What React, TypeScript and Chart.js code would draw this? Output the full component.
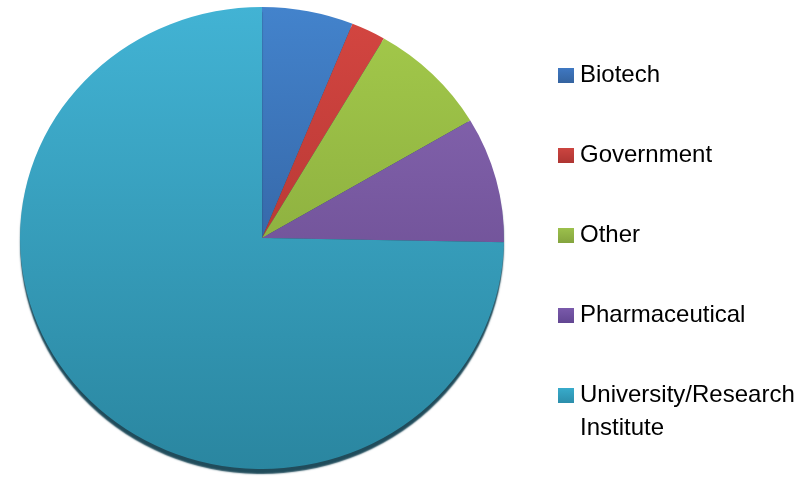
import React, { useEffect, useRef } from 'react';
import { Chart, registerables } from 'chart.js';

Chart.register(...registerables);

// ---- data ----
const categories: string[] = ['Biotech', 'Government', 'Other', 'Pharmaceutical', 'University/Research Institute'];
const legendLabels: (string | string[])[] = ['Biotech', 'Government', 'Other', 'Pharmaceutical', ['University/Research', 'Institute']];
const shares: number[] = [6.1, 2.3, 8.1, 8.8, 74.7];

// ---- styles ----
const topColors = ['#4383cc', '#d44641', '#a4ca4b', '#8a69b6', '#42b3d4'];
const bottomColors = ['#2a4f88', '#a02c2a', '#7a9a36', '#5e4282', '#2a86a0'];
const legendTop = ['#3f78c2', '#cc4540', '#9cc04c', '#7a5aab', '#38abcb'];
const legendBottom = ['#34639f', '#ae3532', '#84a43e', '#624692', '#2c8eab'];

const RADIUS_Y = 231;
const RADIUS_X = 242;

const ellipsePlugin = {
  id: 'ellipsePie',
  beforeDatasetsDraw(chart: any) {
    const { ctx, chartArea: a } = chart;
    const cx = (a.left + a.right) / 2;
    const cy = (a.top + a.bottom) / 2;
    ctx.save();
    ctx.translate(cx, cy);
    ctx.scale(RADIUS_X / RADIUS_Y, 1);
    ctx.translate(-cx, -cy);
    ctx.shadowColor = 'rgba(20,66,82,0.95)';
    ctx.shadowOffsetY = 5;
    ctx.shadowBlur = 1.5;
  },
  afterDatasetsDraw(chart: any) {
    chart.ctx.restore();
  },
};

function makeMarker(top: string, bottom: string): HTMLCanvasElement {
  const c = document.createElement('canvas');
  c.width = 16;
  c.height = 15;
  const x = c.getContext('2d')!;
  const g = x.createLinearGradient(0, 0, 0, 15);
  g.addColorStop(0, top);
  g.addColorStop(1, bottom);
  x.fillStyle = g;
  x.fillRect(0, 0, 16, 15);
  return c;
}

export default function App() {
  const ref = useRef<HTMLCanvasElement | null>(null);

  useEffect(() => {
    document.body.style.margin = '0';
    const canvas = ref.current;
    if (!canvas) return;
    const markers = legendTop.map((t, i) => makeMarker(t, legendBottom[i]));
    const chart = new Chart(canvas, {
      type: 'pie',
      data: {
        labels: legendLabels as any,
        datasets: [
          {
            label: 'Share',
            data: shares,
            radius: RADIUS_Y,
            clip: false,
            borderWidth: 0,
            backgroundColor: (c: any) => {
              const ch = c.chart;
              const a = ch.chartArea;
              const i = c.dataIndex ?? 0;
              if (!a) return topColors[i];
              const cy = (a.top + a.bottom) / 2;
              const g = ch.ctx.createLinearGradient(0, cy - RADIUS_Y, 0, cy + RADIUS_Y);
              g.addColorStop(0, topColors[i]);
              g.addColorStop(1, bottomColors[i]);
              return g;
            },
          } as any,
        ],
      },
      options: {
        animation: false,
        responsive: false,
        layout: { padding: { left: 16, right: 13, top: 0, bottom: 0 } },
        plugins: {
          tooltip: { enabled: false },
          legend: {
            position: 'right',
            align: 'center',
            maxWidth: 290,
            title: { display: true, text: '', font: { size: 10, lineHeight: 1.2 }, padding: 12 },
            labels: {
              usePointStyle: true,
              pointStyleWidth: 4,
              boxWidth: 16,
              boxHeight: 15,
              padding: 56,
              color: '#000000',
              font: { family: '"Liberation Sans", Arial, sans-serif', size: 24, lineHeight: 1.35 },
              generateLabels: () =>
                legendLabels.map((t, i) => ({
                  text: t as any,
                  fillStyle: legendTop[i],
                  strokeStyle: 'rgba(0,0,0,0)',
                  lineWidth: 0,
                  pointStyle: markers[i] as any,
                  hidden: false,
                  index: i,
                  fontColor: '#000000',
                })),
            },
          },
        },
      },
      plugins: [ellipsePlugin],
    });
    return () => chart.destroy();
  }, []);

  return (
    <div style={{ position: 'relative', width: 811, height: 482, overflow: 'hidden', background: '#ffffff' }}>
      <canvas
        ref={ref}
        width={811}
        height={556}
        aria-label={categories.join(', ')}
        style={{ position: 'absolute', left: 0, top: -40, width: 811, height: 556, display: 'block' }}
      />
    </div>
  );
}
